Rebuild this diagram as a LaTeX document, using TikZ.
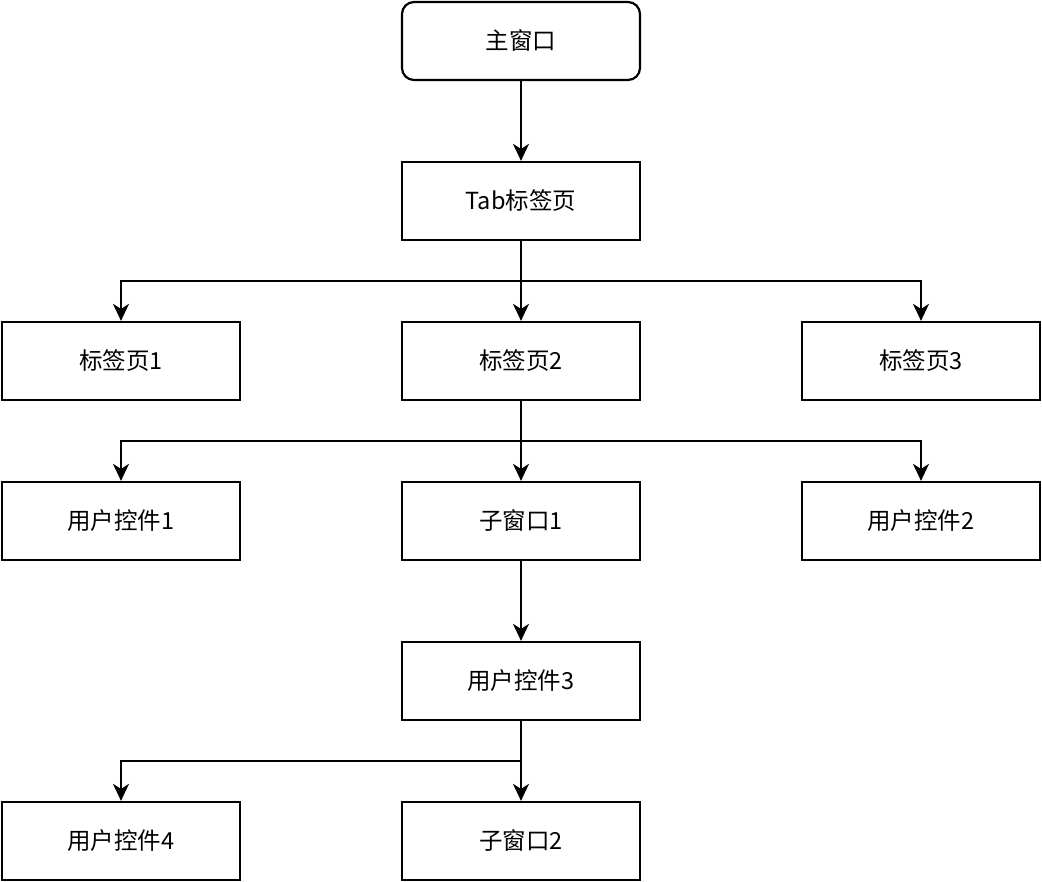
\documentclass[tikz,border=0pt]{standalone}
\usepackage{fontspec}
\setmainfont{Noto Sans CJK SC}
\usetikzlibrary{arrows.meta}
\begin{document}
\begin{tikzpicture}[x=1pt, y=-1pt, >={Stealth[length=17pt,width=16pt,inset=5pt]}, line width=2.2pt,
    box/.style={draw, minimum width=238pt, minimum height=78pt, inner sep=0pt, font=\fontsize{23.5}{27}\selectfont}]
    \useasboundingbox (0,0) rectangle (1042,882);

    \node[box, rounded corners=12pt] (main) at (521,41) {主窗口};
    \node[box] (tab) at (521,201) {Tab标签页};

    \node[box] (page1) at (121,361) {标签页1};
    \node[box] (page2) at (521,361) {标签页2};
    \node[box] (page3) at (921,361) {标签页3};

    \node[box] (ctrl1) at (121,521) {用户控件1};
    \node[box] (sub1) at (521,521) {子窗口1};
    \node[box] (ctrl2) at (921,521) {用户控件2};

    \node[box] (ctrl3) at (521,681) {用户控件3};

    \node[box] (ctrl4) at (121,841) {用户控件4};
    \node[box] (sub2) at (521,841) {子窗口2};

    \draw[->] (main) -- (tab);
    \draw[->] (tab) -- (page2);
    \draw[->] (tab.south) -- ++(0,40) -| (page1);
    \draw[->] (tab.south) -- ++(0,40) -| (page3);

    \draw[->] (page2) -- (sub1);
    \draw[->] (page2.south) -- ++(0,40) -| (ctrl1);
    \draw[->] (page2.south) -- ++(0,40) -| (ctrl2);

    \draw[->] (sub1) -- (ctrl3);
    \draw[->] (ctrl3) -- (sub2);
    \draw[->] (ctrl3.south) -- ++(0,40) -| (ctrl4);
\end{tikzpicture}
\end{document}
